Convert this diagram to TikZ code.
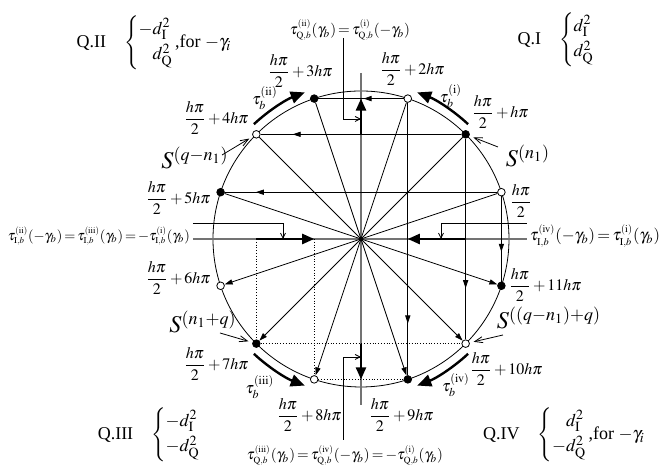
\documentclass[tikz,border=0pt]{standalone}
\usepackage{amsmath}
\usepackage{graphicx}
\usepackage{mathptmx}
\usepackage[no-math]{fontspec}
\setmainfont{Liberation Serif}
\usetikzlibrary{arrows.meta,decorations.markings,calc}
\newcommand{\tauIb}[2]{\tau^{\scriptscriptstyle(\mathrm{#1})}_{\scriptscriptstyle\mathrm{#2},b}}
\newcommand{\ptlab}[1]{$\medmuskip=2mu\dfrac{h\pi}{2}#1$}
\newcommand{\fitw}[2]{\resizebox{#1}{!}{$\thickmuskip=2.5mu\medmuskip=1.5mu#2$}}
\newcommand{\qcase}[2]{\left\{\begin{array}{@{}l@{}}#1\\[1.5pt]#2\end{array}\right.}

\begin{document}
\begin{tikzpicture}[x=0.5pt,y=0.5pt,
  dotb/.style={circle,draw,fill=black,inner sep=0pt,minimum size=3.8pt},
  doto/.style={circle,draw,fill=white,inner sep=0pt,minimum size=3.8pt},
  diam/.style={thin,-{Triangle[length=4pt,width=2.6pt]}},
  chord/.style={thin,postaction={decorate},decoration={markings,mark=at position #1 with {\arrow{Triangle[length=4pt,width=2.6pt]}}}},
  axisline/.style={black!55,line width=0.8pt},
  boldarr/.style={line width=1.2pt,-{Triangle[length=6pt,width=5pt]}},
  tarc/.style={line width=1.2pt,-{Triangle[length=7pt,width=6pt]}},
  ptr/.style={thin,-{Straight Barb[length=2.5pt,width=2.5pt]}},
  sptr/.style={thin,-{Straight Barb[length=4pt,width=3pt]}},
  proj/.style={densely dotted,thin},
  lab/.style={inner sep=1pt,font=\footnotesize},
  slab/.style={inner sep=1pt,font=\large},
  qlab/.style={inner sep=1pt,font=\small}
]
\useasboundingbox (-361,-235) rectangle (300,239);
\coordinate (o) at (0,0);
\draw[thin] (o) circle[radius=148];
\foreach \i/\a in {0/18.435,2/71.565,4/135,6/198.435,8/251.565,10/315}
  \node[doto] (k\i) at (\a:148) {};
\foreach \i/\a in {1/45,3/108.435,5/161.565,7/225,9/288.435,11/341.565}
  \node[dotb] (k\i) at (\a:148) {};

\coordinate (xl) at (-168,0);
\coordinate (xr) at (166,0);
\coordinate (yt) at (0,166);
\coordinate (yb) at (0,-166);
\draw[axisline] (xl) -- (xr);
\draw[axisline] (yt) -- (yb);

\foreach \i in {0,...,5}{
  \pgfmathtruncatemacro\j{\i+6}
  \draw[diam] (k\i) -- (k\j);
}
\draw[chord=0.886] (k0) -- (k5);
\draw[chord=0.84] (k1) -- (k4);
\draw[chord=0.47] (k2) -- (k3);
\draw[chord=0.65] (k0) -- (k11);
\draw[chord=0.745] (k1) -- (k10);
\draw[chord=0.81] (k2) -- (k9);

\draw[proj] (k7 |- o) -- (k7);
\draw[proj] (k8 |- o) -- (k8);
\draw[proj] (k7) -- (k10);
\draw[proj] (k8) -- (k9);

\draw[boldarr] (k7 |- o) -- (k8 |- o);
\draw[boldarr] (k10 |- o) -- (k9 |- o);
\draw[boldarr] (o |- k4) -- (o |- k3);
\draw[boldarr] (o |- k7) -- (o |- k8);

\draw[tarc] (47:157) arc[start angle=47,end angle=69,radius=157];
\draw[tarc] (133:157) arc[start angle=133,end angle=111,radius=157];
\draw[tarc] (227:157) arc[start angle=227,end angle=249,radius=157];
\draw[tarc] (313:157) arc[start angle=313,end angle=291,radius=157];

\node[lab] (l0) at (160,38) {\ptlab{}};
\node[lab] (l1) at (139,127) {\ptlab{+h\pi}};
\node[lab] (l2) at (51,170) {\ptlab{+2h\pi}};
\node[lab] (l3) at (-61,168) {\ptlab{+3h\pi}};
\node[lab] (l4) at (-145,121) {\ptlab{+4h\pi}};
\node[lab] (l5) at (-183,41) {\ptlab{+5h\pi}};
\node[lab] (l6) at (-183,-39) {\ptlab{+6h\pi}};
\node[lab] (l7) at (-145,-125) {\ptlab{+7h\pi}};
\node[lab] (l8) at (-52,-176) {\ptlab{+8h\pi}};
\node[lab] (l9) at (40,-176) {\ptlab{+9h\pi}};
\node[lab] (l10) at (145,-130) {\ptlab{+10h\pi}};
\node[lab] (l11) at (184,-46) {\ptlab{+11h\pi}};

\node[lab] (t1) at (90,143) {$\tau_b^{(\mathrm{i})}$};
\node[lab] (t2) at (-96,141) {$\tau_b^{(\mathrm{ii})}$};
\node[lab] (t3) at (-101,-148) {$\tau_b^{(\mathrm{iii})}$};
\node[lab] (t4) at (95,-146) {$\tau_b^{(\mathrm{iv})}$};

\node[slab] (s1) at (167,83) {$S^{(n_1)}$};
\node[slab] (s2) at (-166,81) {$S^{(q-n_1)}$};
\node[slab] (s3) at (-158,-83) {$S^{(n_1+q)}$};
\node[slab] (s4) at (188,-79) {$S^{((q-n_1)+q)}$};
\coordinate (s1t) at (137,92);
\coordinate (s2t) at (-139,84);
\coordinate (s3t) at (-141,-94);
\coordinate (s4t) at (142,-96);
\draw[sptr,shorten >=2pt] (s1t) -- (k1);
\draw[sptr,shorten >=2pt] (s2t) -- (k4);
\draw[sptr,shorten >=2pt] (s3t) -- (k7);
\draw[sptr,shorten >=2pt] (s4t) -- (k10);

\node[lab] (qtop) at (-11,209) {\fitw{60pt}{\tauIb{ii}{Q}(\gamma_b)=\tauIb{i}{Q}(-\gamma_b)}};
\node[lab] (qbot) at (-16,-216) {\fitw{98pt}{\tauIb{iii}{Q}(\gamma_b)=\tauIb{iv}{Q}(-\gamma_b)=-\tauIb{i}{Q}(\gamma_b)}};
\node[lab] (ileft) at (-262,3) {\fitw{91pt}{\tauIb{ii}{I}(-\gamma_b)=\tauIb{iii}{I}(\gamma_b)=-\tauIb{i}{I}(\gamma_b)}};
\node[lab] (iright) at (234,3) {\fitw{65pt}{\tauIb{iv}{I}(-\gamma_b)=\tauIb{i}{I}(\gamma_b)}};
\draw[ptr] (-18,201) |- (0,120);
\draw[ptr] (-18,-201) |- (0,-118);
\draw[ptr] (-168,16) -| (-78,0);
\draw[ptr] (166,16) -| (80,0);

\node[qlab] (q2) at (-207,196) {Q.II\quad$\qcase{-d_{\mathrm I}^2}{\phantom{-}d_{\mathrm Q}^2}$,for $-\gamma_i$};
\node[qlab] (q1) at (196,199) {Q.I\quad$\qcase{d_{\mathrm I}^2}{d_{\mathrm Q}^2}$};
\node[qlab] (q3) at (-211,-196) {Q.III\quad$\qcase{-d_{\mathrm I}^2}{-d_{\mathrm Q}^2}$};
\node[qlab] (q4) at (203,-196) {Q.IV\quad$\qcase{\phantom{-}d_{\mathrm I}^2}{-d_{\mathrm Q}^2}$,for $-\gamma_i$};
\end{tikzpicture}
\end{document}
